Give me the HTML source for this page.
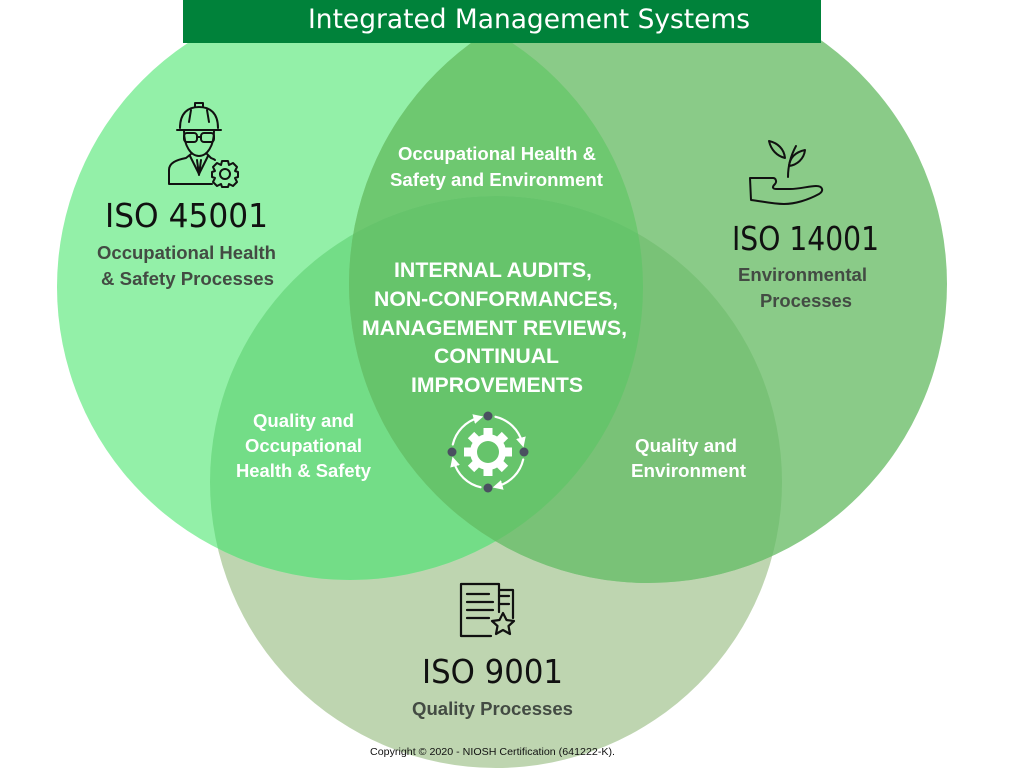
<!DOCTYPE html>
<html>
<head>
<meta charset="utf-8">
<style>
html,body{margin:0;padding:0;background:#ffffff;}
svg{display:block;}
</style>
</head>
<body>
<svg width="1024" height="768" viewBox="0 0 1024 768" xmlns="http://www.w3.org/2000/svg">
  <defs>
    <clipPath id="cL"><circle cx="350" cy="287" r="293"/></clipPath>
    <clipPath id="cR"><circle cx="648" cy="284" r="299"/></clipPath>
    <marker id="ah" viewBox="0 0 10 10" refX="5" refY="5" markerWidth="10" markerHeight="10" markerUnits="userSpaceOnUse" orient="auto">
      <path d="M0,0 L10,5 L0,10 z" fill="#ffffff"/>
    </marker>
  </defs>
  <rect width="1024" height="768" fill="#ffffff"/>

  <!-- circles -->
  <circle cx="496" cy="482" r="286" fill="#BED5B0"/>
  <circle cx="350" cy="287" r="293" fill="#93F0A8"/>
  <circle cx="648" cy="284" r="299" fill="#8ACB88"/>
  <circle cx="648" cy="284" r="299" fill="#6EC870" clip-path="url(#cL)"/>
  <circle cx="496" cy="482" r="286" fill="#73DD87" clip-path="url(#cL)"/>
  <circle cx="496" cy="482" r="286" fill="#79C277" clip-path="url(#cR)"/>
  <g clip-path="url(#cL)">
    <circle cx="496" cy="482" r="286" fill="#66C46B" clip-path="url(#cR)"/>
  </g>

  <!-- header -->
  <rect x="183" y="0" width="638" height="43" fill="#00823A"/>
  <text x="308" y="28" font-family="DejaVu Sans, Liberation Sans, sans-serif" font-size="27" fill="#ffffff" textLength="442" lengthAdjust="spacingAndGlyphs">Integrated Management Systems</text>

  <!-- worker icon -->
  <g fill="none" stroke="#111" stroke-width="2" stroke-linejoin="round" stroke-linecap="round">
    <path d="M180,128 C180,113 188,107 199,107 C210,107 218,113 218,128"/>
    <path d="M177,130 H221"/>
    <path d="M195,107 V103 H203 V107"/>
    <path d="M191,110 L189,122 M207,110 L209,122"/>
    <path d="M184,131 C184,146 191,156 199,156 C207,156 214,146 214,131"/>
    <rect x="184" y="133" width="13" height="9" rx="3"/>
    <rect x="201" y="133" width="13" height="9" rx="3"/>
    <path d="M197,137 H201"/>
    <path d="M191,154 L186,158 C176,160 169,163 169,170 V184 H212"/>
    <path d="M207,154 L211,158 C213,159 214,159 215,160"/>
    <path d="M190,156 L199,174 L208,156"/>
    <path d="M197,160 L199,175 L201,160"/>
    <circle cx="225" cy="174" r="5"/>
    <path d="M222,161 H228 L229,165 L233,163 L237,167 L235,171 L238,172 V177 L235,178 L237,182 L233,186 L229,184 L228,187 H222 L221,184 L217,186 L213,182 L215,178 L212,177 V172 L215,171 L213,167 L217,163 L221,165 Z"/>
  </g>

  <!-- plant icon -->
  <g fill="none" stroke="#111" stroke-width="2" stroke-linejoin="round" stroke-linecap="round">
    <path d="M788,177 C788,167 790,157 796,146"/>
    <path d="M785,158 C777,156 771,150 769,141 C778,143 784,149 785,158 Z"/>
    <path d="M789,166 C790,157 796,152 805,150 C804,159 797,165 789,166 Z"/>
    <path d="M750,178 H773 C776,178 777,182 775,184 C772,187 772,189 777,189 H790 C800,189 809,186 816,186 C823,186 824,191 819,194 C808,200 795,204 784,204 C772,204 761,201 751,200 Z"/>
  </g>

  <!-- document icon -->
  <g fill="none" stroke="#111" stroke-width="2.2" stroke-linejoin="round" stroke-linecap="round">
    <path d="M491,636 H461 V584 H499 V612"/>
    <path d="M499,590 H513 V618"/>
    <path d="M467,594 H489 M467,602 H493 M467,610 H493 M467,618 H489"/>
    <path d="M499,596 H509 M499,604 H509"/>
    <path d="M503,613 L506.5,620 L514,621 L508.5,626 L510,634 L503,630 L496,634 L497.5,626 L492,621 L499.5,620 Z"/>
  </g>

  <!-- ISO titles -->
  <g font-family="DejaVu Sans, Liberation Sans, sans-serif" font-size="33" fill="#111">
    <text x="105" y="227" textLength="163" lengthAdjust="spacingAndGlyphs">ISO 45001</text>
    <text x="732" y="250" textLength="147" lengthAdjust="spacingAndGlyphs">ISO 14001</text>
    <text x="422" y="683" textLength="141" lengthAdjust="spacingAndGlyphs">ISO 9001</text>
  </g>

  <!-- gray labels -->
  <g font-family="Liberation Sans, Arial, sans-serif" font-weight="bold" font-size="18" fill="#434b43">
    <text x="97" y="259" textLength="179" lengthAdjust="spacingAndGlyphs">Occupational Health</text>
    <text x="101" y="285" textLength="173" lengthAdjust="spacingAndGlyphs">&amp; Safety Processes</text>
    <text x="738" y="281" textLength="129" lengthAdjust="spacingAndGlyphs">Environmental</text>
    <text x="760" y="307" textLength="92" lengthAdjust="spacingAndGlyphs">Processes</text>
    <text x="412" y="715" textLength="161" lengthAdjust="spacingAndGlyphs">Quality Processes</text>
  </g>

  <!-- white overlap labels -->
  <g font-family="Liberation Sans, Arial, sans-serif" font-weight="bold" font-size="18" fill="#ffffff">
    <text x="398" y="160" textLength="198" lengthAdjust="spacingAndGlyphs">Occupational Health &amp;</text>
    <text x="390" y="186" textLength="213" lengthAdjust="spacingAndGlyphs">Safety and Environment</text>
    <text x="253" y="427" textLength="101" lengthAdjust="spacingAndGlyphs">Quality and</text>
    <text x="245" y="452" textLength="117" lengthAdjust="spacingAndGlyphs">Occupational</text>
    <text x="236" y="477" textLength="135" lengthAdjust="spacingAndGlyphs">Health &amp; Safety</text>
    <text x="635" y="452" textLength="102" lengthAdjust="spacingAndGlyphs">Quality and</text>
    <text x="631" y="477" textLength="115" lengthAdjust="spacingAndGlyphs">Environment</text>
  </g>

  <!-- center text -->
  <g font-family="Liberation Sans, Arial, sans-serif" font-weight="bold" font-size="21" fill="#ffffff">
    <text x="394" y="277" textLength="198" lengthAdjust="spacingAndGlyphs">INTERNAL AUDITS,</text>
    <text x="374" y="306" textLength="244" lengthAdjust="spacingAndGlyphs">NON-CONFORMANCES,</text>
    <text x="362" y="335" textLength="265" lengthAdjust="spacingAndGlyphs">MANAGEMENT REVIEWS,</text>
    <text x="434" y="363" textLength="125" lengthAdjust="spacingAndGlyphs">CONTINUAL</text>
    <text x="411" y="392" textLength="172" lengthAdjust="spacingAndGlyphs">IMPROVEMENTS</text>
  </g>

  <!-- cycle gear icon -->
  <g>
    <g fill="none" stroke="#ffffff" stroke-width="2.2" stroke-linecap="round">
      <path d="M495.5,416.8 A36,36 0 0 1 522.2,442.5" marker-end="url(#ah)"/>
      <path d="M495.5,416.8 A36,36 0 0 1 522.2,442.5" marker-end="url(#ah)" transform="rotate(90 488 452)"/>
      <path d="M495.5,416.8 A36,36 0 0 1 522.2,442.5" marker-end="url(#ah)" transform="rotate(180 488 452)"/>
      <path d="M495.5,416.8 A36,36 0 0 1 522.2,442.5" marker-end="url(#ah)" transform="rotate(270 488 452)"/>
    </g>
    <g fill="#ffffff">
      <circle cx="488" cy="452" r="18"/>
      <rect x="483.5" y="428" width="9" height="10"/>
      <rect x="483.5" y="428" width="9" height="10" transform="rotate(45 488 452)"/>
      <rect x="483.5" y="428" width="9" height="10" transform="rotate(90 488 452)"/>
      <rect x="483.5" y="428" width="9" height="10" transform="rotate(135 488 452)"/>
      <rect x="483.5" y="428" width="9" height="10" transform="rotate(180 488 452)"/>
      <rect x="483.5" y="428" width="9" height="10" transform="rotate(225 488 452)"/>
      <rect x="483.5" y="428" width="9" height="10" transform="rotate(270 488 452)"/>
      <rect x="483.5" y="428" width="9" height="10" transform="rotate(315 488 452)"/>
    </g>
    <circle cx="488" cy="452" r="11" fill="#66C46B"/>
    <g fill="#4a5060">
      <circle cx="488" cy="416" r="4.5"/>
      <circle cx="524" cy="452" r="4.5"/>
      <circle cx="488" cy="488" r="4.5"/>
      <circle cx="452" cy="452" r="4.5"/>
    </g>
  </g>

  <!-- copyright -->
  <text x="370" y="755" font-family="Liberation Sans, Arial, sans-serif" font-size="10" fill="#111" textLength="245" lengthAdjust="spacingAndGlyphs">Copyright © 2020 - NIOSH Certification (641222-K).</text>
</svg>
</body>
</html>
